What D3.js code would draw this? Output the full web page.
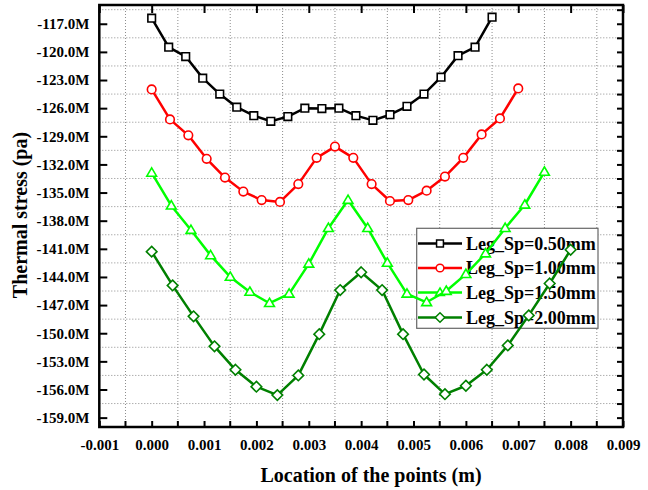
<!DOCTYPE html>
<html>
<head>
<meta charset="utf-8">
<script src="https://cdn.jsdelivr.net/npm/d3@7"></script>
<style>
html,body{margin:0;padding:0;background:#fff;}
svg{display:block;font-family:"Liberation Serif","Times New Roman",serif;font-weight:bold;}
</style>
</head>
<body>
<svg id="chart" width="648" height="490"></svg>
<script>
// ---- data ----
const seriesNames = ["Leg_Sp=0.50mm","Leg_Sp=1.00mm","Leg_Sp=1.50mm","Leg_Sp=2.00mm"];
const xSp050 = [0,0.000325,0.00065,0.000975,0.0013,0.001625,0.00195,0.002275,0.0026,0.002925,0.00325,0.003575,0.0039,0.004225,0.00455,0.004875,0.0052,0.005525,0.00585,0.006175,0.0065];
const ySp050 = [-116.4,-119.5,-120.5,-122.8,-124.5,-125.9,-126.8,-127.4,-126.9,-126.0,-126.05,-126.0,-126.8,-127.3,-126.7,-125.8,-124.5,-122.7,-120.4,-119.5,-116.3];
const xSp100 = [0,0.00035,0.0007,0.00105,0.0014,0.00175,0.0021,0.00245,0.0028,0.00315,0.0035,0.00385,0.0042,0.00455,0.0049,0.00525,0.0056,0.00595,0.0063,0.00665,0.007];
const ySp100 = [-124.0,-127.2,-128.9,-131.4,-133.4,-134.9,-135.8,-136.0,-134.1,-131.3,-130.1,-131.3,-134.1,-135.9,-135.8,-134.8,-133.3,-131.3,-128.8,-127.1,-123.9];
const xSp150 = [0,0.000375,0.00075,0.001125,0.0015,0.001875,0.00225,0.002625,0.003,0.003375,0.00375,0.004125,0.0045,0.004875,0.00525,0.005625,0.006,0.006375,0.00675,0.007125,0.0075];
const ySp150 = [-132.9,-136.4,-139.0,-141.7,-144.0,-145.6,-146.8,-145.8,-142.6,-138.8,-135.8,-138.8,-142.5,-145.8,-146.7,-145.5,-143.7,-141.5,-138.8,-136.3,-132.8];
const xSp200 = [0,0.0004,0.0008,0.0012,0.0016,0.002,0.0024,0.0028,0.0032,0.0036,0.004,0.0044,0.0048,0.0052,0.0056,0.006,0.0064,0.0068,0.0072,0.0076,0.008];
const ySp200 = [-141.3,-144.9,-148.2,-151.4,-153.9,-155.7,-156.6,-154.5,-150.1,-145.4,-143.5,-145.4,-150.1,-154.4,-156.5,-155.6,-153.9,-151.3,-148.1,-144.7,-141.1];
const xTicks = [-0.001,0.000,0.001,0.002,0.003,0.004,0.005,0.006,0.007,0.008,0.009];
const xMinor = [-0.0005,0.0005,0.0015,0.0025,0.0035,0.0045,0.0055,0.0065,0.0075,0.0085];
const yTicksM = [-117,-120,-123,-126,-129,-132,-135,-138,-141,-144,-147,-150,-153,-156,-159];
const yMinorM = [-115.5,-118.5,-121.5,-124.5,-127.5,-130.5,-133.5,-136.5,-139.5,-142.5,-145.5,-148.5,-151.5,-154.5,-157.5];
const xTitle = "Location of the points (m)";
const yTitle = "Thermal stress (pa)";

// ---- layout ----
const L = 99.3, R = 623, T = 5, B = 427;
const svg = d3.select("#chart");
const x = d3.scaleLinear().domain([-0.001, 0.009]).range([L, R]);
const y = d3.scaleLinear().domain([-160e6, -115e6]).range([B, T]);

// custom marker shapes (size = half-width in px)
const sqSym = {draw(c, r){ c.rect(-r, -r, 2*r, 2*r); }};
const ciSym = {draw(c, r){ c.moveTo(r, 0); c.arc(0, 0, r, 0, 2*Math.PI); }};
const trSym = {draw(c, r){ const h = r*1.7; c.moveTo(0, -h*0.6); c.lineTo(r, h*0.4); c.lineTo(-r, h*0.4); c.closePath(); }};
const diSym = {draw(c, r){ c.moveTo(0, -r); c.lineTo(r, 0); c.lineTo(0, r); c.lineTo(-r, 0); c.closePath(); }};

const colors = ["#000000","#ff0000","#00ff00","#008000"];
const symbols = [sqSym, ciSym, trSym, diSym];
const symR = [3.8, 4.3, 4.9, 5.3];
const series = [
  {name: seriesNames[0], xs: xSp050, ys: ySp050},
  {name: seriesNames[1], xs: xSp100, ys: ySp100},
  {name: seriesNames[2], xs: xSp150, ys: ySp150},
  {name: seriesNames[3], xs: xSp200, ys: ySp200}
];

// grid (dotted, at minor positions)
const grid = svg.append("g");
grid.selectAll("line.gx").data(xMinor).join("line")
  .attr("x1", d => x(d)).attr("x2", d => x(d)).attr("y1", T).attr("y2", B)
  .attr("stroke", "#8c8c8c").attr("stroke-width", 1).attr("stroke-dasharray", "1,2");
grid.selectAll("line.gy").data(yMinorM).join("line")
  .attr("y1", d => y(d*1e6)).attr("y2", d => y(d*1e6)).attr("x1", L).attr("x2", R)
  .attr("stroke", "#8c8c8c").attr("stroke-width", 1).attr("stroke-dasharray", "1,2");

// axes
const fmtM = d => (d/1e6).toFixed(1) + "M";
const bottomAxis = d3.axisBottom(x).tickValues(xTicks).tickFormat(d => d.toFixed(3)).tickSize(-6).tickPadding(12);
const gb = svg.append("g").attr("transform", `translate(0,${B})`).call(bottomAxis);
gb.append("g").selectAll("line").data(xMinor).join("line")
  .attr("x1", d => x(d)).attr("x2", d => x(d)).attr("y1", 0).attr("y2", -6).attr("stroke", "#000").attr("stroke-width", 2);
const leftAxis = d3.axisLeft(y).tickValues(yTicksM.map(v => v*1e6)).tickFormat(fmtM).tickSize(-8).tickPadding(10);
const gl = svg.append("g").attr("transform", `translate(${L},0)`).call(leftAxis);
const topAxis = d3.axisTop(x).tickValues(xTicks).tickFormat("").tickSize(-8);
const gt = svg.append("g").attr("transform", `translate(0,${T})`).call(topAxis);
const rightAxis = d3.axisRight(y).tickValues(yTicksM.concat(yMinorM).map(v => v*1e6)).tickFormat("").tickSize(-6);
const gr = svg.append("g").attr("transform", `translate(${R},0)`).call(rightAxis);
[gb, gl, gt, gr].forEach(g => {
  g.select(".domain").remove();
  g.selectAll(".tick line").attr("stroke", "#000").attr("stroke-width", 2);
  g.selectAll(".tick text").attr("fill", "#000").attr("font-size", 15)
    .attr("font-family", "Liberation Serif, Times New Roman, serif").attr("font-weight", "bold");
});
// frame
svg.append("rect").attr("x", L).attr("y", T).attr("width", R - L).attr("height", B - T)
  .attr("fill", "none").attr("stroke", "#000").attr("stroke-width", 2.5);

// legend box (below data)
const lgX = 416.7, lgY = 228.3, lgW = 181.3, lgH = 100;
const lg = svg.append("g");
lg.append("rect").attr("x", lgX).attr("y", lgY).attr("width", lgW).attr("height", lgH)
  .attr("fill", "#fff").attr("stroke", "#666").attr("stroke-width", 1.2);
const rowY = [243.5, 268, 292.5, 317.5];
series.forEach((s, i) => {
  lg.append("line").attr("x1", 418).attr("x2", 462).attr("y1", rowY[i]).attr("y2", rowY[i])
    .attr("stroke", colors[i]).attr("stroke-width", 2.5);
  lg.append("path").attr("d", d3.symbol().type(symbols[i]).size(symR[i] * 0.9)())
    .attr("transform", `translate(440,${rowY[i]})`)
    .attr("fill", "#fff").attr("stroke", colors[i]).attr("stroke-width", 1.5);
  lg.append("text").attr("x", 466).attr("y", rowY[i]).attr("dy", "0.35em")
    .attr("font-size", 18).attr("fill", "#000").text(s.name);
});

// data lines and markers
const line = d3.line().x(d => x(d[0])).y(d => y(d[1]*1e6));
series.forEach((s, i) => {
  const pts = s.xs.map((xv, j) => [xv, s.ys[j]]);
  svg.append("path").datum(pts).attr("d", line)
    .attr("fill", "none").attr("stroke", colors[i]).attr("stroke-width", 2.5).attr("stroke-linejoin", "round");
  svg.append("g").selectAll("path").data(pts).join("path")
    .attr("d", d3.symbol().type(symbols[i]).size(symR[i]))
    .attr("transform", d => `translate(${x(d[0])},${y(d[1]*1e6)})`)
    .attr("fill", "#fff").attr("stroke", colors[i]).attr("stroke-width", 1.6);
});

// titles
svg.append("text").attr("x", 371).attr("y", 482).attr("text-anchor", "middle")
  .attr("font-size", 20).attr("fill", "#000").text(xTitle);
svg.append("text").attr("transform", "translate(27,215) rotate(-90)").attr("text-anchor", "middle")
  .attr("font-size", 20).attr("fill", "#000").text(yTitle);
</script>
</body>
</html>
